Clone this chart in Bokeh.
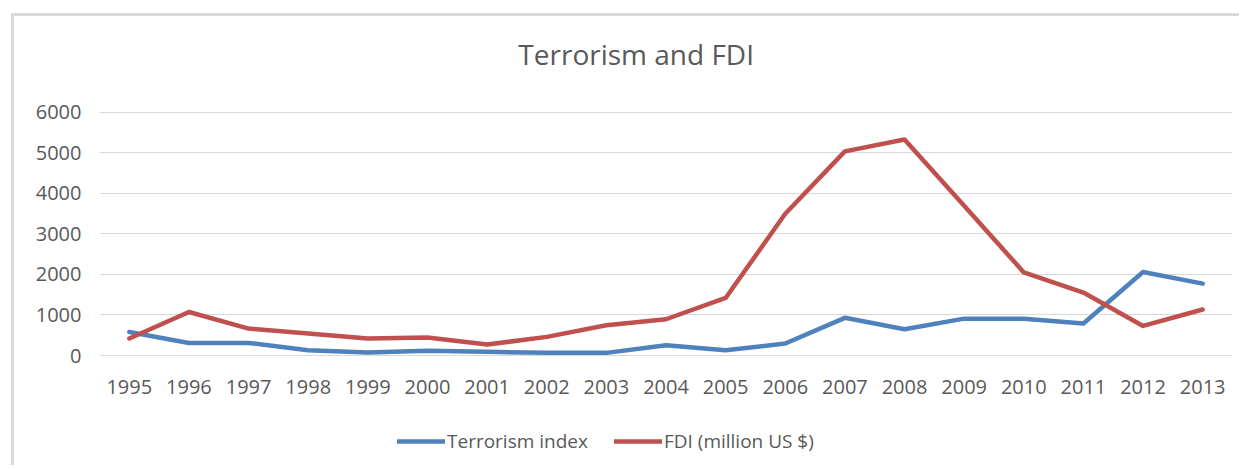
from bokeh.plotting import figure
from bokeh.models import FactorRange, Range1d, Legend, LegendItem, FixedTicker, Label
from bokeh.embed import file_html
from bokeh.resources import INLINE

years = [str(y) for y in range(1995, 2014)]
terrorism_index = [580, 310, 310, 130, 75, 115, 90, 65, 65, 255, 130, 295,
                   930, 650, 910, 910, 790, 2060, 1775]
fdi_million_usd = [420, 1075, 665, 545, 420, 445, 270, 460, 745, 895, 1420, 3500,
                   5040, 5335, 3700, 2050, 1555, 730, 1135]
y_ticks = [0, 1000, 2000, 3000, 4000, 5000, 6000]
chart_title = "Terrorism and FDI"

FONT = "Open Sans"
TXT = "#595959"

# plot frame covers the whole chart height; value 0 sits at the category axis,
# room above 6000 holds the title, room below 0 holds the labels and legend
p = figure(
    x_range=FactorRange(*years),
    y_range=Range1d(-2790, 8370),
    width=1228, height=452,
    output_backend="svg", toolbar_location=None,
    min_border_left=85, min_border_right=10, min_border_top=0, min_border_bottom=0,
)
p.margin = (13, 0, 0, 11)
p.styles = {"border-top": "3px solid #d9d9d9", "border-left": "3px solid #d9d9d9"}

p.outline_line_color = None
p.background_fill_color = "white"
p.border_fill_color = "white"

r1 = p.line(years, terrorism_index, line_color="#4f81bd", line_width=4.5,
            line_join="round", line_cap="round")
r2 = p.line(years, fdi_million_usd, line_color="#c0504d", line_width=4.5,
            line_join="round", line_cap="round")

p.xgrid.grid_line_color = None
p.ygrid.grid_line_color = "#d9d9d9"
p.ygrid.grid_line_width = 1
p.yaxis.ticker = FixedTicker(ticks=y_ticks)
p.xaxis.fixed_location = 0

for ax in (p.xaxis[0], p.yaxis[0]):
    ax.axis_line_color = None
    ax.major_tick_line_color = None
    ax.minor_tick_line_color = None
    ax.major_label_text_font = FONT
    ax.major_label_text_font_size = "20px"
    ax.major_label_text_color = TXT
p.xaxis.major_label_standoff = 18
p.yaxis.major_label_standoff = 12

title = Label(x=9.0, y=7450, text=chart_title, text_align="center",
              text_baseline="alphabetic", text_font=FONT, text_font_size="28px",
              text_color=TXT)
p.add_layout(title)

legend = Legend(
    items=[LegendItem(label="Terrorism index", renderers=[r1]),
           LegendItem(label="FDI (million US $)", renderers=[r2])],
    orientation="horizontal",
    location=(298, 14),
    border_line_color=None,
    background_fill_alpha=0,
    label_text_font=FONT,
    label_text_font_size="19px",
    label_text_color=TXT,
    glyph_width=48,
    label_standoff=2,
    spacing=26,
    padding=0,
    margin=0,
)
p.add_layout(legend, "center")

open("out.html", "w").write(file_html(p, INLINE))
